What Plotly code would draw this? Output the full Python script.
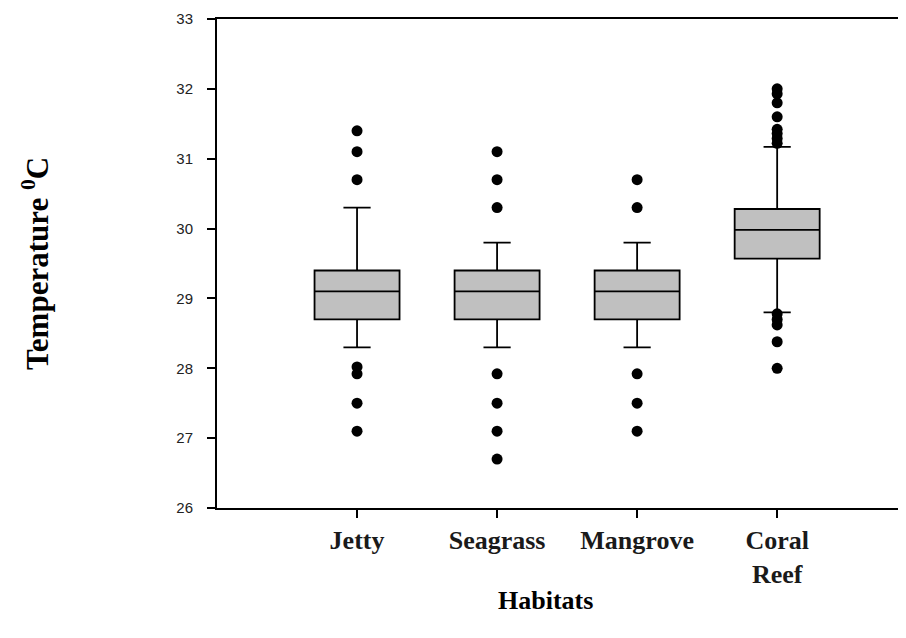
import plotly.graph_objects as go

habitats = ["Jetty", "Seagrass", "Mangrove", "Coral Reef"]
tick_labels = ["Jetty", "Seagrass", "Mangrove", "Coral<br>Reef"]
q1 = [28.7, 28.7, 28.7, 29.57]
median = [29.1, 29.1, 29.1, 29.98]
q3 = [29.4, 29.4, 29.4, 30.28]
lower_whisker = [28.3, 28.3, 28.3, 28.8]
upper_whisker = [30.3, 29.8, 29.8, 31.17]

outliers_jetty = [31.4, 31.1, 30.7, 28.02, 27.92, 27.5, 27.1]
outliers_seagrass = [31.1, 30.7, 30.3, 27.92, 27.5, 27.1, 26.7]
outliers_mangrove = [30.7, 30.3, 27.92, 27.5, 27.1]
outliers_coral = [32.0, 31.93, 31.8, 31.6, 31.42, 31.36, 31.29, 31.22,
                  28.78, 28.7, 28.62, 28.38, 28.0]
outliers = [outliers_jetty, outliers_seagrass, outliers_mangrove, outliers_coral]

fig = go.Figure()
fig.add_trace(go.Box(
    x=habitats, q1=q1, median=median, q3=q3,
    lowerfence=lower_whisker, upperfence=upper_whisker,
    boxpoints=False, width=0.607, whiskerwidth=0.32,
    fillcolor="#c0c0c0", line=dict(color="black", width=1.8),
    showlegend=False, hoverinfo="skip"))

for name, vals in zip(habitats, outliers):
    fig.add_trace(go.Scatter(
        x=[name] * len(vals), y=vals, mode="markers",
        marker=dict(color="black", size=11), showlegend=False))

serif = "Liberation Serif, Times New Roman, serif"

# page body has an 8px margin: figure sits at (8, 8) in the window
OFF = 8
W, H = 906 - OFF, 638 - OFF
L, R, T, B = 217 - OFF, 0, 19 - OFF, 130
pw, ph = W - L - R, H - T - B


def px_to_paper(wx, wy):
    fx, fy = wx - OFF, wy - OFF
    return (fx - L) / pw, (H - fy - B) / ph


hx, hy = px_to_paper(545, 600)
tx, ty = px_to_paper(36, 264)

fig.update_layout(
    width=W, height=H,
    margin=dict(l=L, r=R, t=T, b=B, pad=0),
    paper_bgcolor="white", plot_bgcolor="white",
    xaxis=dict(
        type="category", categoryorder="array", categoryarray=habitats,
        range=[-1.0, 3.92],
        tickmode="array", tickvals=habitats,
        ticktext=["<b>" + t.replace("<br>", "</b><br><b>") + "</b>" for t in tick_labels],
        tickfont=dict(family=serif, size=26, color="#1a1a1a"),
        showline=True, linecolor="black", linewidth=2, mirror=True,
        ticks="outside", ticklen=8, tickcolor="black", tickwidth=1.5,
        showgrid=False, zeroline=False),
    yaxis=dict(
        range=[26, 33], dtick=1, tick0=26,
        tickfont=dict(family="Liberation Sans, Arial, sans-serif", size=15, color="#222"),
        showline=True, linecolor="black", linewidth=2, mirror=False,
        ticks="outside", ticklen=8, tickcolor="black", tickwidth=1.5,
        ticklabelstandoff=11,
        showgrid=False, zeroline=False),
    annotations=[
        dict(text="<b>Habitats</b>", x=hx, y=hy, xref="paper", yref="paper",
             xanchor="center", yanchor="middle",
             showarrow=False, font=dict(family=serif, size=26, color="black")),
        dict(text="<b>Temperature <sup>0</sup>C</b>", x=tx, y=ty,
             xref="paper", yref="paper", textangle=-90,
             xanchor="center", yanchor="middle",
             showarrow=False, font=dict(family=serif, size=31, color="black")),
    ],
)

fig.write_html("out.html")
